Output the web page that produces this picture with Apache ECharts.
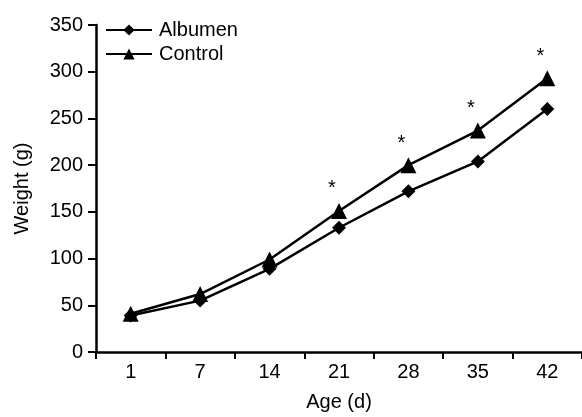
<!DOCTYPE html>
<html>
<head>
<meta charset="utf-8">
<script src="https://cdn.jsdelivr.net/npm/echarts@6/dist/echarts.min.js"></script>
<style>
  html, body { margin: 0; padding: 0; background: #fff; }
  #chart { width: 582px; height: 417px; }
</style>
</head>
<body>
<div id="chart"></div>
<script>
var ages = ['1', '7', '14', '21', '28', '35', '42'];
var albumen = [39, 55, 89, 133, 172, 204, 260];
var control = [41, 62, 99, 151, 200, 237, 293];
var signif = ['', '', '', '*', '*', '*', '*'];   // asterisk above control point

var font = 'Liberation Sans, Arial, sans-serif';

function build_control(){
    var out = [];
    for (var i = 0; i < control.length; i++) {
        out.push({ value: control[i], mark: signif[i] });
    }
    return out;
}

var myChart = echarts.init(document.getElementById('chart'));

var option = {
    animation: false,
    backgroundColor: '#fff',
    grid: { left: 96, right: 0, top: 25, bottom: 61, containLabel: false },
    legend: {
        orient: 'vertical',
        left: 100,
        top: 15,
        itemWidth: 46,
        itemHeight: 14,
        itemGap: 4,
        textStyle: { fontFamily: font, fontSize: 20, color: '#000', padding: [0, 0, 0, 2] },
        data: ['Albumen', 'Control']
    },
    xAxis: {
        type: 'category',
        data: ages,
        boundaryGap: true,
        name: 'Age (d)',
        nameLocation: 'middle',
        nameGap: 40,
        nameTextStyle: { fontFamily: font, fontSize: 20, color: '#000' },
        axisLine: { lineStyle: { color: '#000', width: 2.5 } },
        axisTick: { show: true, length: 7, lineStyle: { color: '#000', width: 2 } },
        axisLabel: { fontFamily: font, fontSize: 20, color: '#000', margin: 10 },
        splitLine: { show: false }
    },
    yAxis: {
        type: 'value',
        min: 0,
        max: 350,
        interval: 50,
        name: 'Weight (g)',
        nameLocation: 'middle',
        nameGap: 64,
        nameTextStyle: { fontFamily: font, fontSize: 20, color: '#000' },
        axisLine: { show: true, lineStyle: { color: '#000', width: 2.5 } },
        axisTick: { show: true, length: 8, lineStyle: { color: '#000', width: 2 } },
        axisLabel: { fontFamily: font, fontSize: 20, color: '#000', margin: 13 },
        splitLine: { show: false }
    },
    series: [
        {
            name: 'Albumen',
            type: 'line',
            data: albumen,
            symbol: 'diamond',
            symbolSize: 14,
            itemStyle: { color: '#000' },
            lineStyle: { color: '#000', width: 2.5 },
            z: 3
        },
        {
            name: 'Control',
            type: 'line',
            data: build_control(),
            symbol: 'triangle',
            symbolSize: 16,
            itemStyle: { color: '#000' },
            lineStyle: { color: '#000', width: 2.5 },
            label: {
                show: true,
                position: 'top',
                distance: 4,
                offset: [-7, 0],
                fontFamily: font,
                fontSize: 20,
                color: '#000',
                formatter: function (p) { return p.data.mark; }
            },
            z: 4
        }
    ]
};

myChart.setOption(option);
</script>
</body>
</html>
